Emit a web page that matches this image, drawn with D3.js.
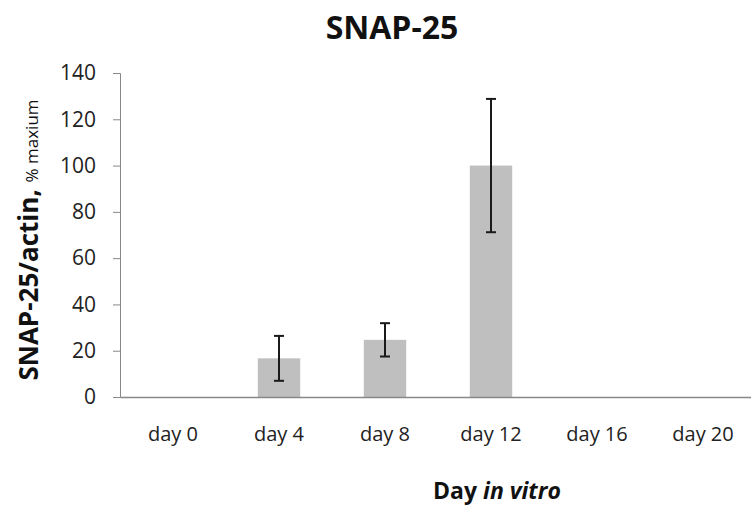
<!DOCTYPE html>
<html><head><meta charset="utf-8">
<script src="https://cdn.jsdelivr.net/npm/d3@7"></script>
<style>body{margin:0;background:#fff;font-family:"Open Sans","Liberation Sans",sans-serif;}</style>
</head><body>
<svg id="c" width="751" height="508"></svg>
<script>
const categories = ["day 0","day 4","day 8","day 12","day 16","day 20"];
const values = [0, 16.7, 24.7, 100, 0, 0];
const errors = [0, 9.7, 7.2, 28.8, 0, 0];
const yTicks = [0,20,40,60,80,100,120,140];

const svg = d3.select("#c");
const m = {l:120, r:-5, t:73, b:111};
const W = 751, H = 508;
const x = d3.scaleBand().domain(categories).range([m.l, W - m.r]).paddingInner(0.6).paddingOuter(0.3);
const y = d3.scaleLinear().domain([0,140]).range([H - m.b, m.t]);
const font = "'Open Sans', 'Liberation Sans', sans-serif";

// y axis
const ya = svg.append("g").attr("transform",`translate(${m.l},0)`)
  .call(d3.axisLeft(y).tickValues(yTicks).tickSize(7).tickPadding(17));
ya.select(".domain").attr("stroke","#888");
ya.selectAll(".tick line").attr("stroke","#888");
ya.selectAll("text").attr("font-size",21).attr("font-family",font).attr("fill","#222");

// bars
const data = categories.map((c,i)=>({c, v:values[i], e:errors[i]}));
svg.selectAll("rect.bar").data(data.filter(d=>d.v>0)).join("rect")
  .attr("x",d=>x(d.c)).attr("width",x.bandwidth())
  .attr("y",d=>y(d.v)).attr("height",d=>y(0)-y(d.v))
  .attr("fill","#bfbfbf");

// x axis
const xa = svg.append("g").attr("transform",`translate(0,${y(0)})`)
  .call(d3.axisBottom(x).tickSize(0).tickPadding(30));
xa.select(".domain").attr("stroke","#888").attr("stroke-width",1.5);
xa.selectAll("text").attr("font-size",20).attr("font-family",font).attr("fill","#222");

// error bars
const eb = svg.append("g").attr("stroke","#1a1a1a").attr("stroke-width",2);
data.filter(d=>d.e>0).forEach(d=>{
  const cx = x(d.c)+x.bandwidth()/2;
  eb.append("line").attr("x1",cx).attr("x2",cx).attr("y1",y(d.v+d.e)).attr("y2",y(d.v-d.e));
  eb.append("line").attr("x1",cx-5).attr("x2",cx+5).attr("y1",y(d.v+d.e)).attr("y2",y(d.v+d.e));
  eb.append("line").attr("x1",cx-5).attr("x2",cx+5).attr("y1",y(d.v-d.e)).attr("y2",y(d.v-d.e));
});

// title
svg.append("text").attr("x",392).attr("y",39).attr("text-anchor","middle")
  .attr("font-family",font).attr("font-weight","bold").attr("font-size",32).attr("fill","#111").text("SNAP-25");

// y title
const yt = svg.append("text").attr("transform","translate(38,240) rotate(-90)").attr("text-anchor","middle")
  .attr("font-family",font).attr("fill","#111");
yt.append("tspan").attr("font-weight","bold").attr("font-size",26).text("SNAP-25/actin, ");
yt.append("tspan").attr("font-size",17).text("% maxium");

// x title
const xt = svg.append("text").attr("x",497).attr("y",499).attr("text-anchor","middle")
  .attr("font-family",font).attr("font-weight","bold").attr("font-size",23).attr("fill","#111");
xt.append("tspan").text("Day ");
xt.append("tspan").attr("font-style","italic").text("in vitro");
</script>
</body></html>
